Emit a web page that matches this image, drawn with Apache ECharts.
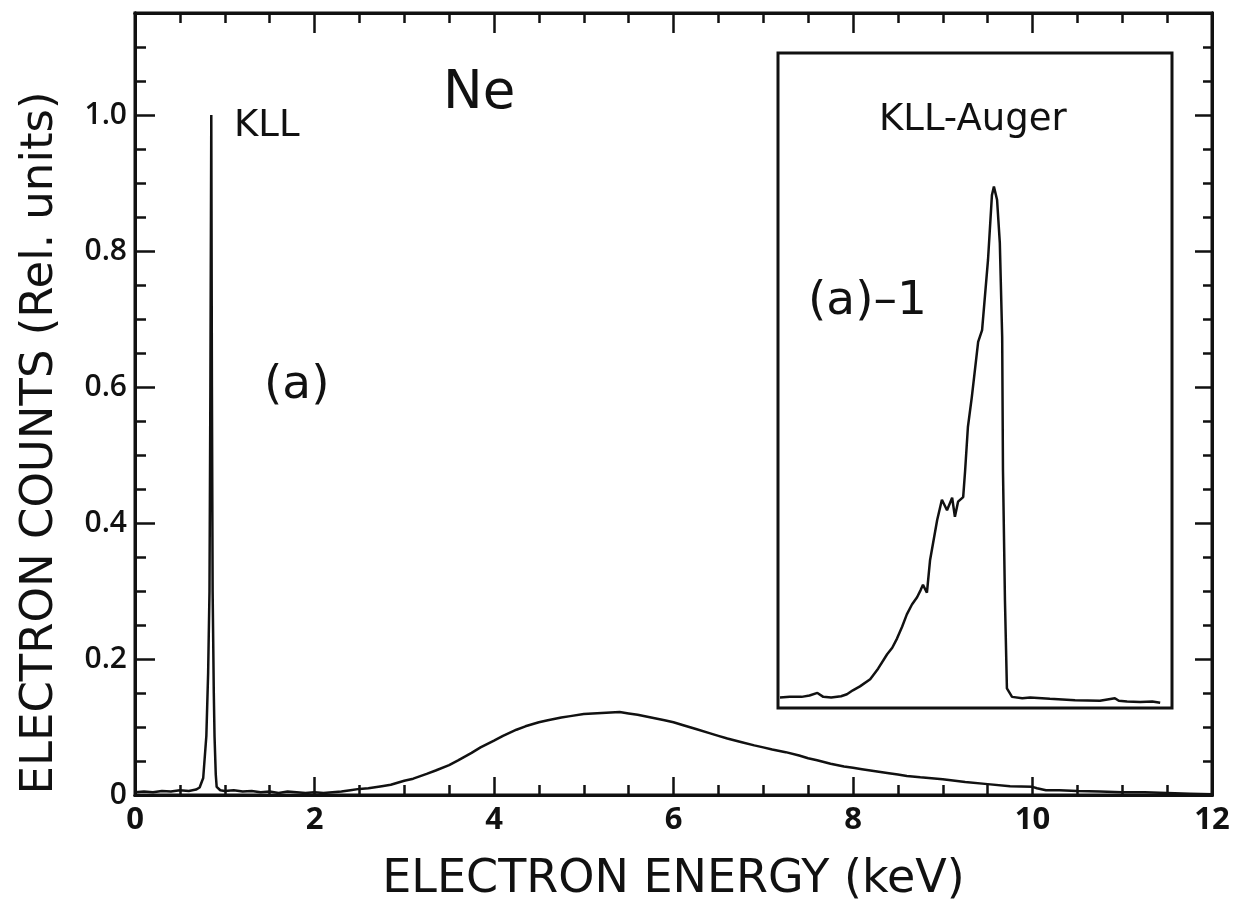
<!DOCTYPE html>
<html>
<head>
<meta charset="utf-8">
<title>Ne KLL electron spectrum</title>
<script src="https://cdn.jsdelivr.net/npm/echarts@6/dist/echarts.min.js"></script>
<style>
  html, body { margin: 0; padding: 0; background: #fff; }
  #chart { width: 1234px; height: 917px; }
</style>
</head>
<body>
<div id="chart"></div>
<script>
// main spectrum, energy in keV, counts in rel. units
var mainEnergy = [
  0.00, 0.10, 0.20, 0.30, 0.40, 0.50, 0.60, 0.68, 0.72, 0.76,
  0.795, 0.815, 0.83, 0.84, 0.85, 0.857, 0.865, 0.878, 0.886, 0.90,
  0.91, 0.95, 1.00, 1.10, 1.20, 1.30, 1.40, 1.50, 1.60, 1.70,
  1.80, 1.90, 2.00, 2.10, 2.20, 2.30, 2.40, 2.50, 2.60, 2.75,
  2.85, 3.00, 3.10, 3.25, 3.35, 3.50, 3.60, 3.75, 3.85, 4.00,
  4.10, 4.25, 4.35, 4.50, 4.60, 4.75, 4.85, 5.00, 5.10, 5.25,
  5.40, 5.50, 5.60, 5.75, 5.90, 6.00, 6.10, 6.25, 6.40, 6.50,
  6.60, 6.75, 6.90, 7.00, 7.10, 7.25, 7.40, 7.50, 7.60, 7.75,
  7.90, 8.00, 8.10, 8.25, 8.40, 8.50, 8.60, 8.75, 9.00, 9.25,
  9.50, 9.75, 10.00, 10.05, 10.15, 10.30, 10.50, 10.75, 11.00, 11.25,
  11.50, 11.75, 12.00
];
var mainCounts = [
  0.004, 0.005, 0.004, 0.006, 0.005, 0.007, 0.006, 0.008, 0.011, 0.025,
  0.087, 0.18, 0.30, 0.60, 1.00, 0.60, 0.30, 0.15, 0.087, 0.03,
  0.012, 0.007, 0.006, 0.007, 0.005, 0.006, 0.004, 0.005, 0.003, 0.005,
  0.004, 0.003, 0.004, 0.003, 0.004, 0.005, 0.007, 0.009, 0.010, 0.013,
  0.015, 0.021, 0.024, 0.031, 0.036, 0.044, 0.051, 0.062, 0.070, 0.080,
  0.087, 0.096, 0.101, 0.107, 0.110, 0.114, 0.116, 0.119, 0.120, 0.121,
  0.122, 0.120, 0.118, 0.114, 0.110, 0.107, 0.103, 0.097, 0.091, 0.087,
  0.083, 0.078, 0.073, 0.070, 0.067, 0.063, 0.058, 0.054, 0.051, 0.046,
  0.042, 0.040, 0.038, 0.035, 0.032, 0.030, 0.028, 0.026, 0.023, 0.019,
  0.016, 0.013, 0.012, 0.010, 0.007, 0.007, 0.006, 0.005, 0.004, 0.004,
  0.003, 0.002, 0.001
];

// inset (a)-1: KLL-Auger line, arbitrary channel 0-100, relative counts
var insetChannel = [
  0.5, 3, 6, 8, 10, 11.5, 13.5, 16, 17.5, 19,
  20.8, 23.4, 25.4, 27.7, 29, 30.2, 31.5, 32.7, 34, 35.3,
  36.2, 36.8, 37.8, 38.6, 40.4, 41.6, 42.9, 44.2, 44.9, 45.7,
  47.0, 47.5, 48.2, 49.2, 50.8, 51.8, 53.3, 54.3, 54.8, 55.6,
  56.3, 56.9, 57.1, 57.6, 58.1, 59.4, 62, 64, 69, 75.4,
  81.7, 85.5, 86.5, 88.6, 91.9, 95, 97
];
var insetCounts = [
  0.016, 0.017, 0.017, 0.019, 0.023, 0.017, 0.016, 0.018, 0.021, 0.027,
  0.033, 0.044, 0.060, 0.082, 0.092, 0.106, 0.124, 0.143, 0.158, 0.169,
  0.180, 0.188, 0.176, 0.226, 0.287, 0.318, 0.302, 0.321, 0.292, 0.315,
  0.322, 0.363, 0.429, 0.475, 0.559, 0.577, 0.684, 0.783, 0.796, 0.776,
  0.710, 0.566, 0.363, 0.165, 0.030, 0.017, 0.015, 0.016, 0.014, 0.012,
  0.011, 0.015, 0.011, 0.010, 0.009, 0.010, 0.008
];

var xTicks = [0, 2, 4, 6, 8, 10, 12];
var xTickLabels = ["0", "2", "4", "6", "8", "10", "12"];
var yTicks = [0, 0.2, 0.4, 0.6, 0.8, 1.0];
var yTickLabels = ["0", "0.2", "0.4", "0.6", "0.8", "1.0"];

function pick(ticks, labels) {
  return function (v) {
    for (var i = 0; i < ticks.length; i++) {
      if (Math.abs(ticks[i] - v) < 1e-6) return labels[i];
    }
    return "";
  };
}

function zip(a, b) {
  var out = [];
  for (var i = 0; i < a.length; i++) out.push([a[i], b[i]]);
  return out;
}

var FONT = "DejaVu Sans";
var INK = "#111";

var chart = echarts.init(document.getElementById("chart"));

// tick axes: ticks point into the plot, the box itself is the axis line
function xAx(pos, interval, len, labels) {
  return {
    type: "value", gridIndex: 0, position: pos, min: 0, max: 12, interval: interval,
    axisLine: { show: true, onZero: false, lineStyle: { color: INK, width: 3 } },
    axisTick: { show: true, inside: true, length: len, lineStyle: { color: INK, width: 2.5 } },
    axisLabel: labels ? {
      show: true, inside: false, margin: 10, color: INK, fontFamily: "Open Sans", fontSize: 31, fontWeight: "bold",
      formatter: pick(xTicks, xTickLabels)
    } : { show: false },
    splitLine: { show: false }
  };
}
function yAx(pos, interval, len, labels) {
  return {
    type: "value", gridIndex: 0, position: pos, min: 0, max: 1.15, interval: interval,
    axisLine: { show: true, onZero: false, lineStyle: { color: INK, width: 3 } },
    axisTick: { show: true, inside: true, length: len, lineStyle: { color: INK, width: 2.5 } },
    axisLabel: labels ? {
      show: true, inside: false, margin: 8, color: INK, fontFamily: "Open Sans", fontSize: 30, fontWeight: 600,
      formatter: pick(yTicks, yTickLabels)
    } : { show: false },
    splitLine: { show: false }
  };
}

var xMain = xAx("bottom", 2, 18, true);
xMain.name = "ELECTRON ENERGY (keV)";
xMain.nameLocation = "middle";
xMain.nameGap = 62;
xMain.nameTextStyle = { color: INK, fontFamily: FONT, fontSize: 46 };

chart.setOption({
  animation: false,
  backgroundColor: "#fff",
  grid: [
    { left: 135, right: 22, top: 13, bottom: 122, show: true, borderColor: INK, borderWidth: 3 },
    { left: 778, top: 53, width: 394, height: 655, show: true, borderColor: INK, borderWidth: 3,
      backgroundColor: "#fff", z: 5 }
  ],
  xAxis: [
    xMain,
    xAx("bottom", 0.5, 10, false),
    xAx("top", 2, 20, false),
    xAx("top", 0.5, 10, false),
    { type: "value", gridIndex: 1, min: 0, max: 100, show: false }
  ],
  yAxis: [
    yAx("left", 0.2, 20, true),
    yAx("left", 0.05, 11, false),
    yAx("right", 0.2, 17, false),
    yAx("right", 0.05, 9, false),
    { type: "value", gridIndex: 1, min: 0, max: 1, show: false }
  ],
  series: [
    {
      name: "Ne", type: "line", xAxisIndex: 0, yAxisIndex: 0,
      data: zip(mainEnergy, mainCounts),
      showSymbol: false, symbol: "none",
      lineStyle: { color: INK, width: 2.5 }, z: 3
    },
    {
      name: "KLL-Auger", type: "line", xAxisIndex: 4, yAxisIndex: 4,
      data: zip(insetChannel, insetCounts),
      showSymbol: false, symbol: "none",
      lineStyle: { color: INK, width: 2.5 }, z: 6
    }
  ],
  graphic: [
    // y axis title sits a bit below the plot middle in the original
    { type: "text", x: 40, y: 443, rotation: Math.PI / 2, z: 10,
      style: { text: "ELECTRON COUNTS (Rel. units)", font: "45px 'DejaVu Sans'", fill: INK,
               align: "center", verticalAlign: "middle" } },
    { type: "text", left: 443, top: 68, z: 10,
      style: { text: "Ne", font: "53px 'DejaVu Sans'", fill: INK } },
    { type: "text", left: 234, top: 108, z: 10,
      style: { text: "KLL", font: "37px 'DejaVu Sans'", fill: INK } },
    { type: "text", left: 264, top: 362, z: 10,
      style: { text: "(a)", font: "47px 'DejaVu Sans'", fill: INK } },
    { type: "text", left: 808, top: 278, z: 10,
      style: { text: "(a)\u20131", font: "47px 'DejaVu Sans'", fill: INK } },
    { type: "text", left: 879, top: 102, z: 10,
      style: { text: "KLL-Auger", font: "37px 'DejaVu Sans'", fill: INK } }
  ]
});
</script>
</body>
</html>
